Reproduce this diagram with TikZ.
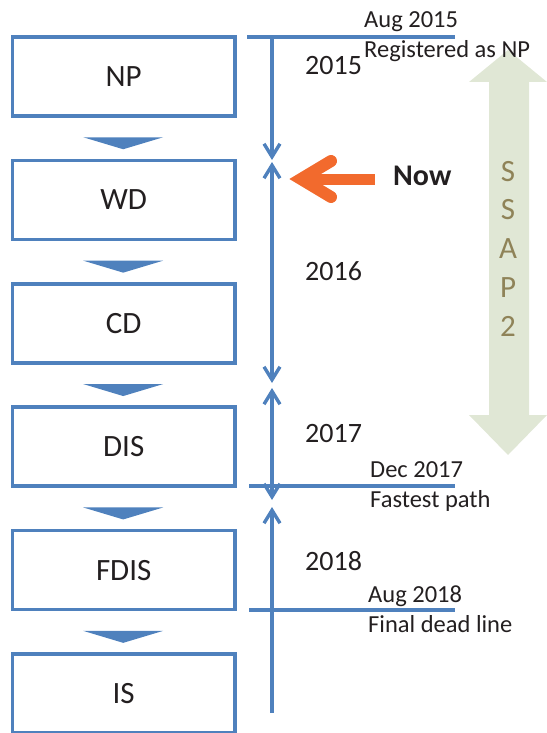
\documentclass[tikz,border=0pt]{standalone}
\usepackage{fontspec}
\setmainfont{Carlito}
\usetikzlibrary{arrows.meta,calc}
\definecolor{blu}{RGB}{79,129,189}
\definecolor{ink}{RGB}{35,31,32}
\definecolor{orng}{RGB}{242,106,45}
\definecolor{sage}{RGB}{224,231,213}
\definecolor{olivetxt}{RGB}{143,131,88}
\tikzset{
  stagebox/.style={draw=blu, line width=3.5pt, minimum width=222.7pt, minimum height=79pt, inner sep=0pt, font=\fontsize{31}{31}\selectfont, text=ink},
  chev/.style={fill=blu, draw=none},
  tline/.style={draw=blu, line width=3.4pt},
  tarr/.style={tline, -{Straight Barb[length=13pt,width=16pt]}},
  tarrboth/.style={tline, {Straight Barb[length=13pt,width=16pt]}-{Straight Barb[length=13pt,width=16pt]}},
  tarrup/.style={tline, {Straight Barb[length=13pt,width=16pt]}-},
  small/.style={anchor=base west, inner sep=0pt, text=ink, font=\fontsize{24.5}{24.5}\selectfont},
  year/.style={anchor=base west, inner sep=0pt, text=ink, font=\fontsize{28}{28}\selectfont},
  ssap/.style={inner sep=0pt, text=olivetxt, font=\fontsize{31}{31}\selectfont}
}
\begin{document}
\begin{tikzpicture}[x=1pt,y=-1pt]
\useasboundingbox (0,0) rectangle (546,733);
% SSAP2 double arrow
\fill[sage] (508,50) -- (547,82) -- (529,82) -- (529,415) -- (547,415) -- (508,455)
  -- (469,415) -- (489,415) -- (489,82) -- (469,82) -- cycle;
\node[ssap] (s1) at (508,172) {S};
\node[ssap] (s2) at (508,210) {S};
\node[ssap] (s3) at (508,249) {A};
\node[ssap] (s4) at (508,288) {P};
\node[ssap] (s5) at (508,326) {2};
% stage boxes
\node[stagebox] (np)   at (123.7,76.5)  {NP};
\node[stagebox] (wd)   at (123.7,199.9) {WD};
\node[stagebox] (cd)   at (123.7,323.3) {CD};
\node[stagebox] (dis)  at (123.7,446.7) {DIS};
\node[stagebox] (fdis) at (123.7,570.1) {FDIS};
\node[stagebox] (is)   at (123.7,693.5) {IS};
% chevrons
\foreach \a in {np,wd,cd,dis,fdis}{
  \fill[chev] ($(\a.south)+(-40.5,19.5)$) -- ($(\a.south)+(39.5,19.5)$) -- ($(\a.south)+(-0.5,31.5)$) -- cycle;
}
% timeline
\coordinate (t0) at (272,37);
\coordinate (t1d) at (272,160);
\coordinate (t1u) at (272,162);
\coordinate (t2d) at (272,383);
\coordinate (t2u) at (272,388);
\coordinate (t3d) at (272,500);
\coordinate (t3u) at (272,507);
\coordinate (t4) at (272,713);
\coordinate (h0a) at (247,37);
\coordinate (h0b) at (455,37);
\coordinate (h1a) at (249,486);
\coordinate (h1b) at (455,486);
\coordinate (h2a) at (249,610);
\coordinate (h2b) at (455,610);
\draw[tline] (h0a) -- (h0b);
\draw[tline] (h1a) -- (h1b);
\draw[tline] (h2a) -- (h2b);
\draw[tarr] (t0) -- (t1d);
\draw[tarrboth] (t1u) -- (t2d);
\draw[tarrboth] (t2u) -- (t3d);
\draw[tarrup] (t3u) -- (t4);
% labels
\node[small] (aug15) at (364,28) {Aug 2015};
\node[small] (reg) at (364,58) {Registered as NP};
\node[year] (y15) at (305,75) {2015};
\node[year] (y16) at (305,280) {2016};
\node[year] (y17) at (305,442) {2017};
\node[year] (y18) at (305,570) {2018};
\node[small] (dec17) at (370,477) {Dec 2017};
\node[small] (fast) at (370,507) {Fastest path};
\node[small] (aug18) at (368,602) {Aug 2018};
\node[small] (final) at (368,632) {Final dead line};
% Now arrow
\node[anchor=base west, inner sep=0pt, text=ink, font=\fontsize{30}{30}\selectfont\bfseries] (now) at (393,185) {Now};
\coordinate (otip) at (301,179);
\coordinate (otail) at (375,179);
\coordinate (oup) at (331,161);
\coordinate (odn) at (331,197);
\draw[orng, line width=11pt] (otip) -- (otail);
\draw[orng, line width=12pt, line join=miter, line cap=round] (oup) -- (otip) -- (odn);
\end{tikzpicture}
\end{document}
